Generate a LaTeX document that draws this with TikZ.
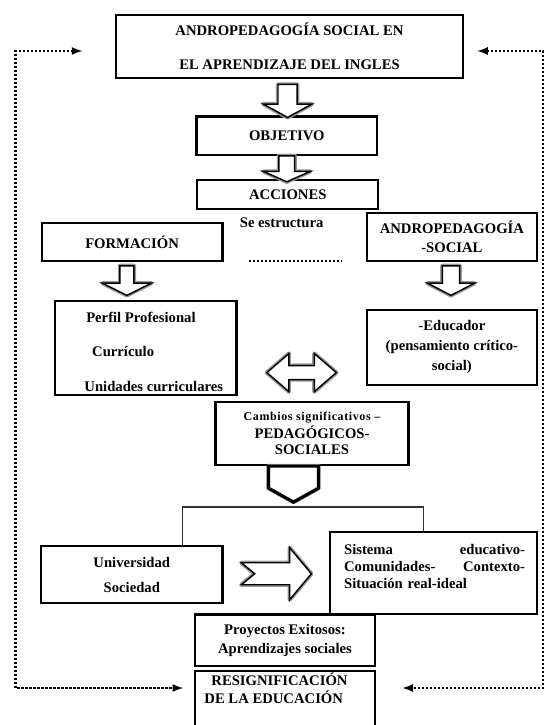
\documentclass[tikz,border=0pt]{standalone}
\usepackage{fontspec}
\setmainfont{Liberation Serif}
\usepackage{tikz}
\usetikzlibrary{positioning}
\usetikzlibrary{calc}
\tikzset{>=latex}
\newcommand{\letra}{\bfseries\fontsize{11}{14}\selectfont}
\tikzset{
  caja/.style={draw, line width=1.6pt, inner sep=0pt, align=center, font=\letra},
  txt/.style={inner sep=0pt, align=center, font=\letra},
  bloque/.style={draw=black, line width=1.1pt, fill=white,
    preaction={draw=black!40, line width=3.2pt, line join=round}},
  lazo/.style={line width=1.7pt, dash pattern=on 1.7pt off 1.3pt},
  rama/.style={line width=0.9pt, draw=black!80},
}
% flecha hueca hacia abajo: tope, semiancho cuerpo, semiancho punta, largo cuerpo, largo total
\newcommand{\flechab}[5]{%
  \draw[bloque] (#1) ++(-#2,0) -- ++(0,#4) -- ++(#2-#3,0) -- ++(#3,#5-#4)
    -- ++(#3,#4-#5) -- ++(#2-#3,0) -- ++(0,-#4) -- cycle;
}

\begin{document}
\begin{tikzpicture}[x=0.75pt, y=-0.75pt]
\useasboundingbox (0,0) rectangle (545,725);

% ---------- Titulo ----------
\node[caja, minimum width=260.7pt, minimum height=47.7pt] (titulo) at (289.5,46.4)
  {ANDROPEDAGOGÍA SOCIAL EN\\[11pt]EL APRENDIZAJE DEL INGLES};
\node[caja, minimum width=135.5pt, minimum height=28.7pt] (objetivo) at (286.8,135.6) {OBJETIVO};
\node[caja, minimum width=135.6pt, minimum height=21.8pt] (acciones) at (287.8,194.6) {ACCIONES};

\flechab{$(titulo.south)+(-1.9,5.2)$}{9.6}{24.3}{19.6}{33}
\flechab{objetivo.south}{7.9}{23.5}{15.6}{26}

% ---------- Se estructura ----------
\node[txt] (estructura) at (281.6,223) {Se estructura};
\node[caja, minimum width=135.6pt, minimum height=28.7pt] (formacion) at (132.1,242.2) {FORMACIÓN};
\node[caja, minimum width=127.7pt, minimum height=36.5pt] (andsocial) at (451.9,237) {ANDROPEDAGOGÍA\\-SOCIAL};
\coordinate (punteoA) at (248.5,261.3);
\coordinate (punteoB) at (342.4,261.3);
\draw[lazo] (punteoA) -- (punteoB);

\flechab{$(formacion.south)+(-5.2,3.4)$}{7}{24.4}{17.4}{29.6}
\flechab{$(andsocial.south)+(-0.9,3.4)$}{8.7}{23.5}{17.4}{29.6}

% ---------- Perfil y educador ----------
\node[caja, minimum width=136.1pt, minimum height=70pt] (perfil) at (145.7,347.9) {};
\node[txt, align=left] (perfiltxt) at (153.8,351.6)
  {\hspace*{1.35pt}Perfil Profesional\\[12pt]\hspace*{5.8pt}Currículo\\[12pt]Unidades curriculares};
\node[caja, minimum width=127.7pt, minimum height=56.1pt] (educador) at (451.9,347.3)
  {-Educador\\[1pt](pensamiento crítico-\\[1pt]social)};

\coordinate (dobleC) at ($(perfil.east)!0.5!(educador.west)+(0,25)$);
\draw[bloque, shift={(dobleC)}] (-34.75,0) -- (-12.75,-19) -- (-12.75,-7) -- (12.75,-7)
  -- (12.75,-19) -- (34.75,0) -- (12.75,19) -- (12.75,7) -- (-12.75,7) -- (-12.75,19) -- cycle;

% ---------- Cambios ----------
\node[caja, minimum width=144.7pt, minimum height=47.6pt] (cambios) at (312,433.3)
  {{\fontsize{9}{11}\selectfont\addfontfeature{LetterSpace=5}Cambios significativos –}\\[-0.5pt]PEDAGÓGICOS-\\[-1.5pt]SOCIALES};
\begin{scope}[bloque/.append style={line width=2.4pt}]
\flechab{$(cambios.south)+(-18.5,0)$}{25}{25}{22}{36}
\end{scope}

\coordinate (ramaI) at (182.5,507);
\coordinate (ramaD) at (423.4,507);

% ---------- Universidad y sistema ----------
\node[caja, minimum width=136.1pt, minimum height=42.6pt] (universidad) at (131.8,574.6)
  {Universidad\\[4.7pt]Sociedad};
\node[caja, minimum width=155.1pt, minimum height=61pt] (sistema) at (433.6,572.9) {};
\node[txt, align=left, text width=135.7pt] (sistematxt) at (434.6,566)
  {Sistema\hfill educativo-\\[-1.25pt]Comunidades-\hfill Contexto-\\[-1.25pt]Situación real-ideal};

\draw[rama] (universidad.north -| ramaI) -- (ramaI) -- (ramaD) -- (sistema.north -| ramaD);

\coordinate (derC) at ($(universidad.east)!0.5!(sistema.west)$);
\draw[bloque, shift={(derC)}] (-35,-11) -- (13.3,-11) -- (13.3,-26) -- (35,0) -- (13.3,26)
  -- (13.3,11) -- (-35,11) -- (-21.7,0) -- cycle;

% ---------- Proyectos y resignificacion ----------
\node[caja, minimum width=134.5pt, minimum height=38.9pt] (proyectos) at (285,640.4)
  {Proyectos Exitosos:\\Aprendizajes sociales};
\node[caja, minimum width=134.5pt, minimum height=67.5pt, anchor=north] (resig) at (285,669.8) {};
\node[txt, align=left] (resigtxt) at (276,688)
  {\hspace*{5.25pt}RESIGNIFICACIÓN\\[-0.5pt]DE LA EDUCACIÓN};

% ---------- Lazo punteado ----------
\coordinate (lazoSI) at (15.6,51);
\coordinate (lazoII) at (15.6,688);
\coordinate (lazoSD) at (543,51);
\coordinate (lazoID) at (543,688);
\draw[lazo, <->, shorten <=24.2pt, shorten >=8.4pt]
  (titulo.west |- lazoSI) -- (lazoSI) -- (lazoII) -- (resig.west |- lazoII);
\draw[lazo, <->, shorten <=9.7pt, shorten >=20.1pt]
  (titulo.east |- lazoSD) -- (lazoSD) -- (lazoID) -- (resig.east |- lazoID);

\end{tikzpicture}
\end{document}
